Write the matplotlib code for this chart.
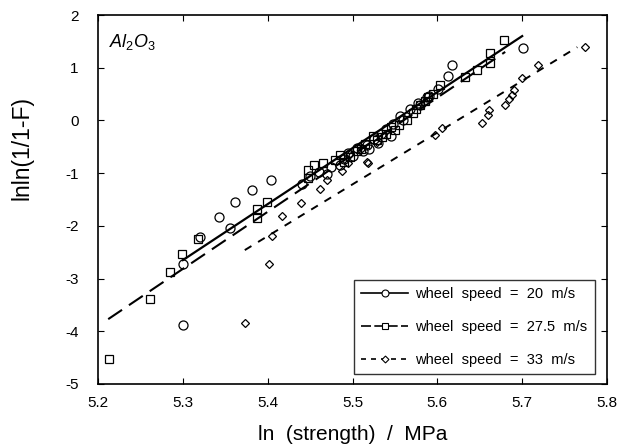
import matplotlib
matplotlib.use('Agg')
import matplotlib.pyplot as plt
from matplotlib.lines import Line2D

plt.rcParams['font.family'] = ['Liberation Sans', 'DejaVu Sans']
plt.rcParams['axes.unicode_minus'] = False
plt.rcParams['mathtext.fontset'] = 'custom'
plt.rcParams['mathtext.it'] = 'Liberation Sans:italic'
plt.rcParams['mathtext.rm'] = 'Liberation Sans'

# wheel speed = 20 m/s (circles)
x20 = [5.300, 5.300, 5.320, 5.343, 5.355, 5.362, 5.381, 5.404, 5.440, 5.450,
       5.460, 5.470, 5.475, 5.485, 5.490, 5.495, 5.500, 5.505, 5.512, 5.517,
       5.520, 5.525, 5.530, 5.533, 5.540, 5.545, 5.548, 5.556, 5.560, 5.568,
       5.577, 5.580, 5.588, 5.590, 5.601, 5.612, 5.617, 5.701]
y20 = [-3.88, -2.73, -2.21, -1.83, -2.05, -1.55, -1.32, -1.13, -1.20, -1.05,
       -0.98, -1.02, -0.88, -0.85, -0.74, -0.62, -0.68, -0.52, -0.58, -0.47,
       -0.55, -0.36, -0.42, -0.26, -0.16, -0.30, -0.06, 0.08, 0.00, 0.21,
       0.33, 0.30, 0.45, 0.46, 0.59, 0.84, 1.05, 1.37]

# wheel speed = 27.5 m/s (squares)
x275 = [5.213, 5.261, 5.285, 5.299, 5.318, 5.387, 5.387, 5.399, 5.448, 5.448,
        5.455, 5.465, 5.479, 5.485, 5.490, 5.497, 5.505, 5.510, 5.515, 5.524,
        5.529, 5.535, 5.540, 5.545, 5.550, 5.555, 5.564, 5.571, 5.575, 5.580,
        5.585, 5.589, 5.595, 5.603, 5.633, 5.647, 5.662, 5.662, 5.679]
y275 = [-4.53, -3.39, -2.88, -2.54, -2.25, -1.68, -1.86, -1.55, -0.94, -1.09,
        -0.85, -0.80, -0.75, -0.65, -0.78, -0.69, -0.58, -0.55, -0.45, -0.30,
        -0.37, -0.32, -0.25, -0.12, -0.18, -0.08, 0.00, 0.14, 0.22, 0.30,
        0.36, 0.44, 0.50, 0.67, 0.83, 0.96, 1.09, 1.27, 1.53]

# wheel speed = 33 m/s (diamonds)
x33 = [5.373, 5.401, 5.405, 5.417, 5.439, 5.462, 5.470, 5.488, 5.495, 5.497,
       5.511, 5.517, 5.518, 5.529, 5.597, 5.606, 5.653, 5.660, 5.661, 5.680,
       5.684, 5.688, 5.690, 5.700, 5.719, 5.774]
y33 = [-3.85, -2.73, -2.19, -1.81, -1.56, -1.30, -1.13, -0.95, -0.81, -0.64,
       -0.52, -0.79, -0.81, -0.41, -0.28, -0.14, -0.04, 0.10, 0.20, 0.29,
       0.41, 0.48, 0.58, 0.81, 1.05, 1.39]

# fitted lines
fx20, fy20 = [5.30, 5.70], [-2.65, 1.60]
fx275, fy275 = [5.212, 5.68], [-3.77, 1.30]
fx33, fy33 = [5.373, 5.765], [-2.46, 1.39]

labels = ['wheel  speed  =  20  m/s', 'wheel  speed  =  27.5  m/s', 'wheel  speed  =  33  m/s']

fig = plt.figure(figsize=(6.22, 4.48), dpi=100)
ax = fig.add_axes([0.1576, 0.1429, 0.8183, 0.8236])

ax.plot(fx20, fy20, color='black', lw=1.6, ls='-')
ax.plot(fx275, fy275, color='black', lw=1.5, ls=(0, (8, 4)))
ax.plot(fx33, fy33, color='black', lw=1.4, ls=(0, (4, 4)))

ax.plot(x20, y20, ls='none', marker='o', ms=6.5, mfc='none', mec='black', mew=0.9)
ax.plot(x275, y275, ls='none', marker='s', ms=6, mfc='none', mec='black', mew=0.9)
ax.plot(x33, y33, ls='none', marker='D', ms=3.8, mfc='none', mec='black', mew=0.9)

ax.set_xlim(5.2, 5.8)
ax.set_ylim(-5, 2)
ax.set_xticks([5.2, 5.3, 5.4, 5.5, 5.6, 5.7, 5.8])
ax.set_yticks([-5, -4, -3, -2, -1, 0, 1, 2])
ax.tick_params(direction='in', top=True, right=True, labelsize=11, length=4)
ax.tick_params(axis='x', pad=9)
ax.tick_params(axis='y', pad=14)
for s in ax.spines.values():
    s.set_linewidth(1.2)

ax.set_xlabel('ln  (strength)  /  MPa', fontsize=15)
ax.xaxis.set_label_coords(0.5, -0.11)
ax.set_ylabel('lnln(1/1-F)', fontsize=16.5)
ax.yaxis.set_label_coords(-0.127, 0.64)

ax.text(0.022, 0.955, r'$Al_{2}O_{3}$', transform=ax.transAxes, fontsize=13,
        va='top', ha='left')

handles = [
    Line2D([], [], color='black', lw=1.2, ls='-', marker='o', ms=5, mfc='white', mec='black', mew=0.8),
    Line2D([], [], color='black', lw=1.2, ls=(0, (6, 2)), marker='s', ms=5, mfc='white', mec='black', mew=0.8),
    Line2D([], [], color='black', lw=1.2, ls=(0, (3, 3)), marker='D', ms=3.5, mfc='white', mec='black', mew=0.8),
]
leg = ax.legend(handles, labels, loc='lower right', fontsize=10.5, frameon=True,
                fancybox=False, edgecolor='black', handlelength=3.2, borderpad=0.5,
                labelspacing=1.3, handletextpad=0.5, borderaxespad=0,
                bbox_to_anchor=(0.976, 0.027))
leg.get_frame().set_linewidth(1.0)

fig.savefig('out.png', dpi=100)
